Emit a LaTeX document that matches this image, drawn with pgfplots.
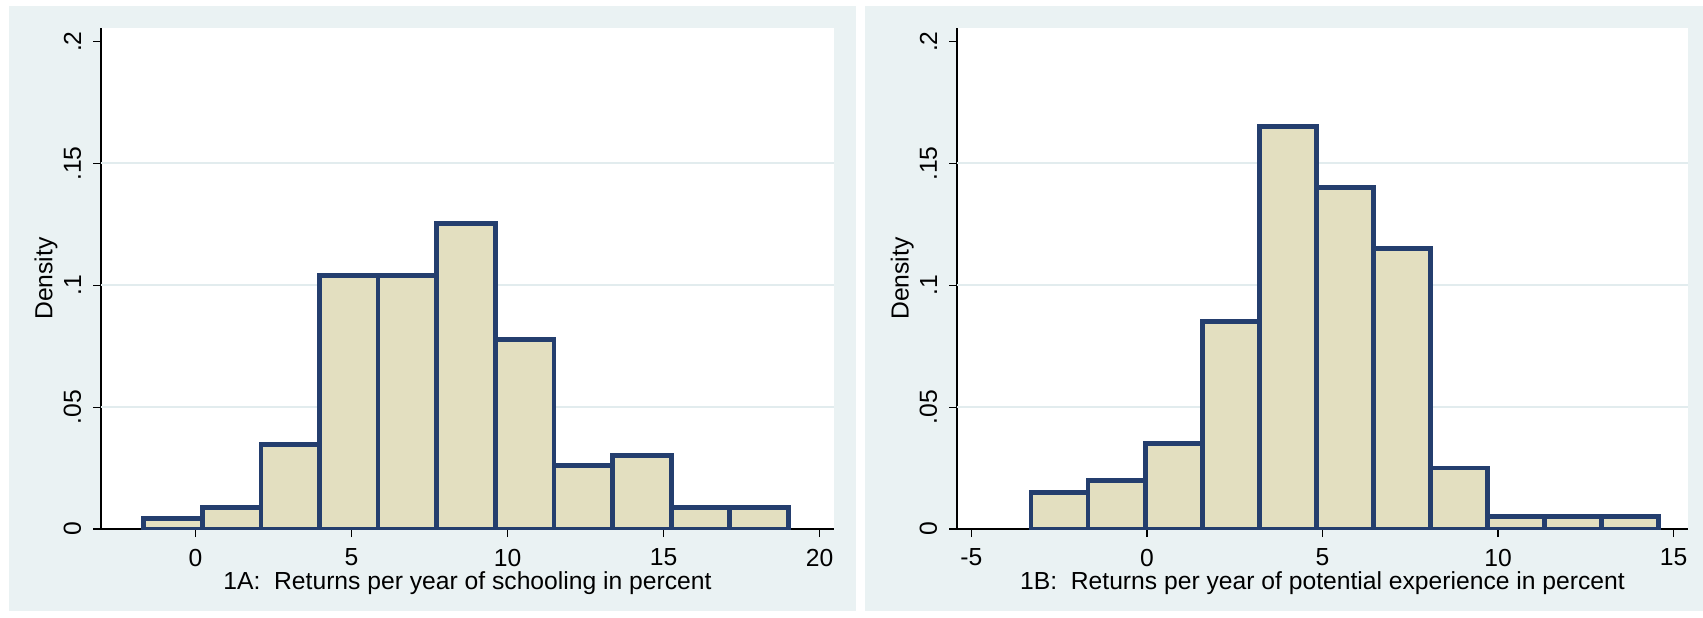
\documentclass[border=0pt]{standalone}
\usepackage{pgfplots}
\pgfplotsset{compat=1.18}
\usepackage{pgfplotstable}
\usepackage{fontspec}
\setmainfont{Liberation Sans}
\definecolor{bgc}{RGB}{234,242,243}
\definecolor{gridc}{RGB}{226,236,238}
\definecolor{barfill}{RGB}{227,223,192}
\definecolor{barline}{RGB}{36,62,110}

\pgfplotstableread{
x y
-1.660 0.0043
0.218 0.0087
2.096 0.0346
3.974 0.1039
5.852 0.1039
7.730 0.1255
9.608 0.0779
11.486 0.0260
13.364 0.0303
15.242 0.0087
17.120 0.0087
18.998 0.0087
}\histA

\pgfplotstableread{
x y
-3.300 0.0150
-1.675 0.0200
-0.050 0.0350
1.575 0.0851
3.200 0.1652
4.825 0.1401
6.450 0.1151
8.075 0.0250
9.700 0.0050
11.325 0.0050
12.950 0.0050
14.575 0.0050
}\histB

\pgfplotsset{
  statastyle/.style={
    scale only axis,
    height=150.3pt,
    ymin=0, ymax=0.2056,
    axis x line*=bottom, axis y line*=left,
    axis line style={black, line width=0.4pt},
    tick style={black, line width=0.4pt},
    tick align=outside,
    major tick length=2.4pt,
    minor tick num=0,
    ytick={0,0.2}, yticklabels={0,.2},
    extra y ticks={0.05,0.1,0.15},
    extra y tick labels={.05,.1,.15},
    extra y tick style={grid=major, major grid style={gridc, line width=0.6pt}},
    axis background/.style={fill=white},
    /pgf/number format/assume math mode=true,
    tick label style={font=\fontsize{7.4}{9}\selectfont},
    label style={font=\fontsize{7.4}{9}\selectfont},
    yticklabel style={rotate=90, anchor=south},
    ylabel={Density},
    ylabel style={at={(axis description cs:-0.075,0.5)}, anchor=center, rotate=0},
    xlabel style={at={(axis description cs:0.5,-0.108)}, anchor=center},
  },
  histbar/.style={ybar interval, fill=barfill, draw=barline, line width=1.4pt},
}

\begin{document}
\begin{tikzpicture}
\fill[white] (0,0) rectangle (510.9pt,185.1pt);
\fill[bgc] (2.7pt,1.8pt) rectangle (256.8pt,183.3pt);
\fill[bgc] (259.5pt,1.8pt) rectangle (510.9pt,183.3pt);

\begin{axis}[statastyle,
  at={(30.3pt,26.4pt)}, anchor=south west,
  width=219.9pt,
  xmin=-3.03, xmax=20.46,
  xtick={0,5,10,15,20}, xticklabels={0,5,10,15,20},
  xlabel={1A:\ \ Returns per year of schooling in percent},
]
\addplot[histbar] table[x=x,y=y] {\histA};
\end{axis}

\begin{axis}[statastyle,
  at={(287.1pt,26.4pt)}, anchor=south west,
  width=219.3pt,
  xmin=-5.41, xmax=15.41,
  xtick={-5,0,5,10,15}, xticklabels={-5,0,5,10,15},
  xlabel={1B:\ \ Returns per year of potential experience in percent},
]
\addplot[histbar] table[x=x,y=y] {\histB};
\end{axis}
\end{tikzpicture}
\end{document}
